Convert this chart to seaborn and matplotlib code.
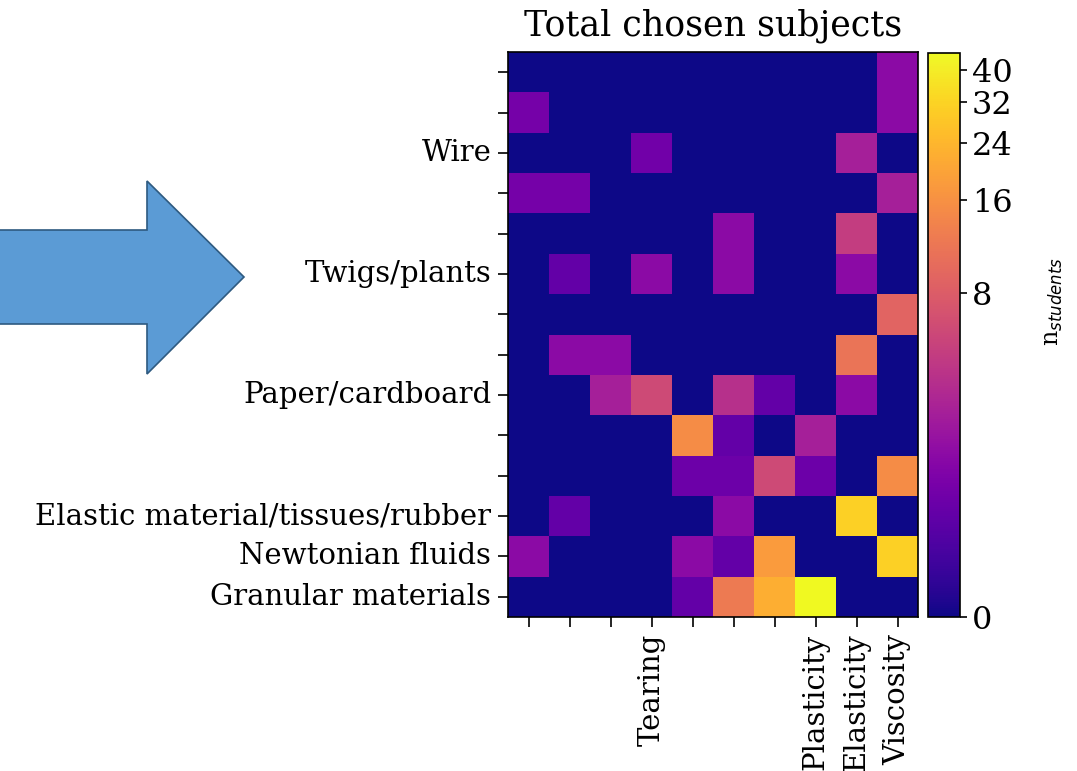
import numpy as np
import pandas as pd
import matplotlib
matplotlib.use("Agg")
import matplotlib.pyplot as plt
from matplotlib.colors import FuncNorm
from matplotlib.patches import Polygon
import seaborn as sns

sns.set_style("white")
plt.rcParams["font.family"] = ["DejaVu Serif"]
plt.rcParams["mathtext.fontset"] = "dejavusans"
plt.rcParams["text.color"] = "black"
plt.rcParams["xtick.color"] = "black"
plt.rcParams["ytick.color"] = "black"
plt.rcParams["axes.labelcolor"] = "black"

# Row labels (materials), top to bottom; blank rows keep their tick only
materials = ["", "", "Wire", "", "", "Twigs/plants", "", "",
             "Paper/cardboard", "", "", "Elastic material/tissues/rubber",
             "Newtonian fluids", "Granular materials"]

# Column labels (phenomena), left to right
phenomena = ["", "", "", "Tearing", "", "", "", "Plasticity",
             "Elasticity", "Viscosity"]

# Number of students per material / phenomenon
r00 = [0, 0, 0, 0, 0, 0, 0, 0, 0, 2]
r01 = [1.4, 0, 0, 0, 0, 0, 0, 0, 0, 2]
r02 = [0, 0, 0, 1.3, 0, 0, 0, 0, 3, 0]
r03 = [1.4, 1.4, 0, 0, 0, 0, 0, 0, 0, 3]
r04 = [0, 0, 0, 0, 0, 2, 0, 0, 5, 0]
r05 = [0, 1, 0, 2, 0, 2, 0, 0, 2, 0]
r06 = [0, 0, 0, 0, 0, 0, 0, 0, 0, 9]
r07 = [0, 2, 2, 0, 0, 0, 0, 0, 11, 0]
r08 = [0, 0, 3, 6, 0, 4, 1, 0, 2, 0]
r09 = [0, 0, 0, 0, 15, 1, 0, 3, 0, 0]
r10 = [0, 0, 0, 0, 1.2, 1.2, 6, 1.2, 0, 15]
r11 = [0, 1, 0, 0, 0, 2, 0, 0, 31, 0]
r12 = [2, 0, 0, 0, 2, 1, 18, 0, 0, 31]
r13 = [0, 0, 0, 0, 1, 12, 22, 45, 0, 0]

counts = pd.DataFrame([r00, r01, r02, r03, r04, r05, r06, r07,
                       r08, r09, r10, r11, r12, r13])

cbar_ticks = [0, 8, 16, 24, 32, 40]

fig = plt.figure(figsize=(10.77, 7.71), dpi=100)
W, H = 1077, 771

def fig_rect(x0, y0, x1, y1):
    return [x0 / W, 1 - y1 / H, (x1 - x0) / W, (y1 - y0) / H]

ax = fig.add_axes(fig_rect(508, 52, 918, 617))
cax = fig.add_axes(fig_rect(928, 53, 960, 617))

norm = FuncNorm((np.log1p, np.expm1), vmin=0, vmax=float(counts.values.max()))

sns.heatmap(counts, ax=ax, cbar_ax=cax, cmap="plasma", norm=norm,
            xticklabels=phenomena, yticklabels=materials)

for s in ax.spines.values():
    s.set_visible(True)
    s.set_linewidth(1.2)
    s.set_color("black")

ax.tick_params(axis="both", which="major", length=7, width=1.2,
               pad=5, direction="out", left=True, bottom=True,
               labelsize=21, color="black", labelcolor="black")
plt.setp(ax.get_yticklabels(), rotation=0)
plt.setp(ax.get_xticklabels(), rotation=90)
ax.set_title("Total chosen subjects", fontsize=25, pad=12, color="black")

cbar = ax.collections[0].colorbar
cbar.set_ticks(cbar_ticks)
cbar.set_ticklabels([str(t) for t in cbar_ticks])
cbar.ax.tick_params(labelsize=23, length=5, width=1.2, right=True,
                    color="black", labelcolor="black")
cbar.outline.set_visible(True)
cbar.outline.set_linewidth(1.2)
cbar.outline.set_edgecolor("black")
cbar.set_label(r"n$_{students}$", fontsize=17, color="black")
cbar.ax.yaxis.set_label_coords(3.55, 0.56)

# Block arrow pointing at the heatmap
pts = [(-5, 230), (147, 230), (147, 181), (244, 277),
       (147, 374), (147, 324), (-5, 324)]
arrow = Polygon([(x / W, 1 - y / H) for x, y in pts], closed=True,
                transform=fig.transFigure, facecolor="#5B9BD5",
                edgecolor="#2E5A80", linewidth=1.2)
fig.add_artist(arrow)

fig.savefig("out.png", dpi=100)
